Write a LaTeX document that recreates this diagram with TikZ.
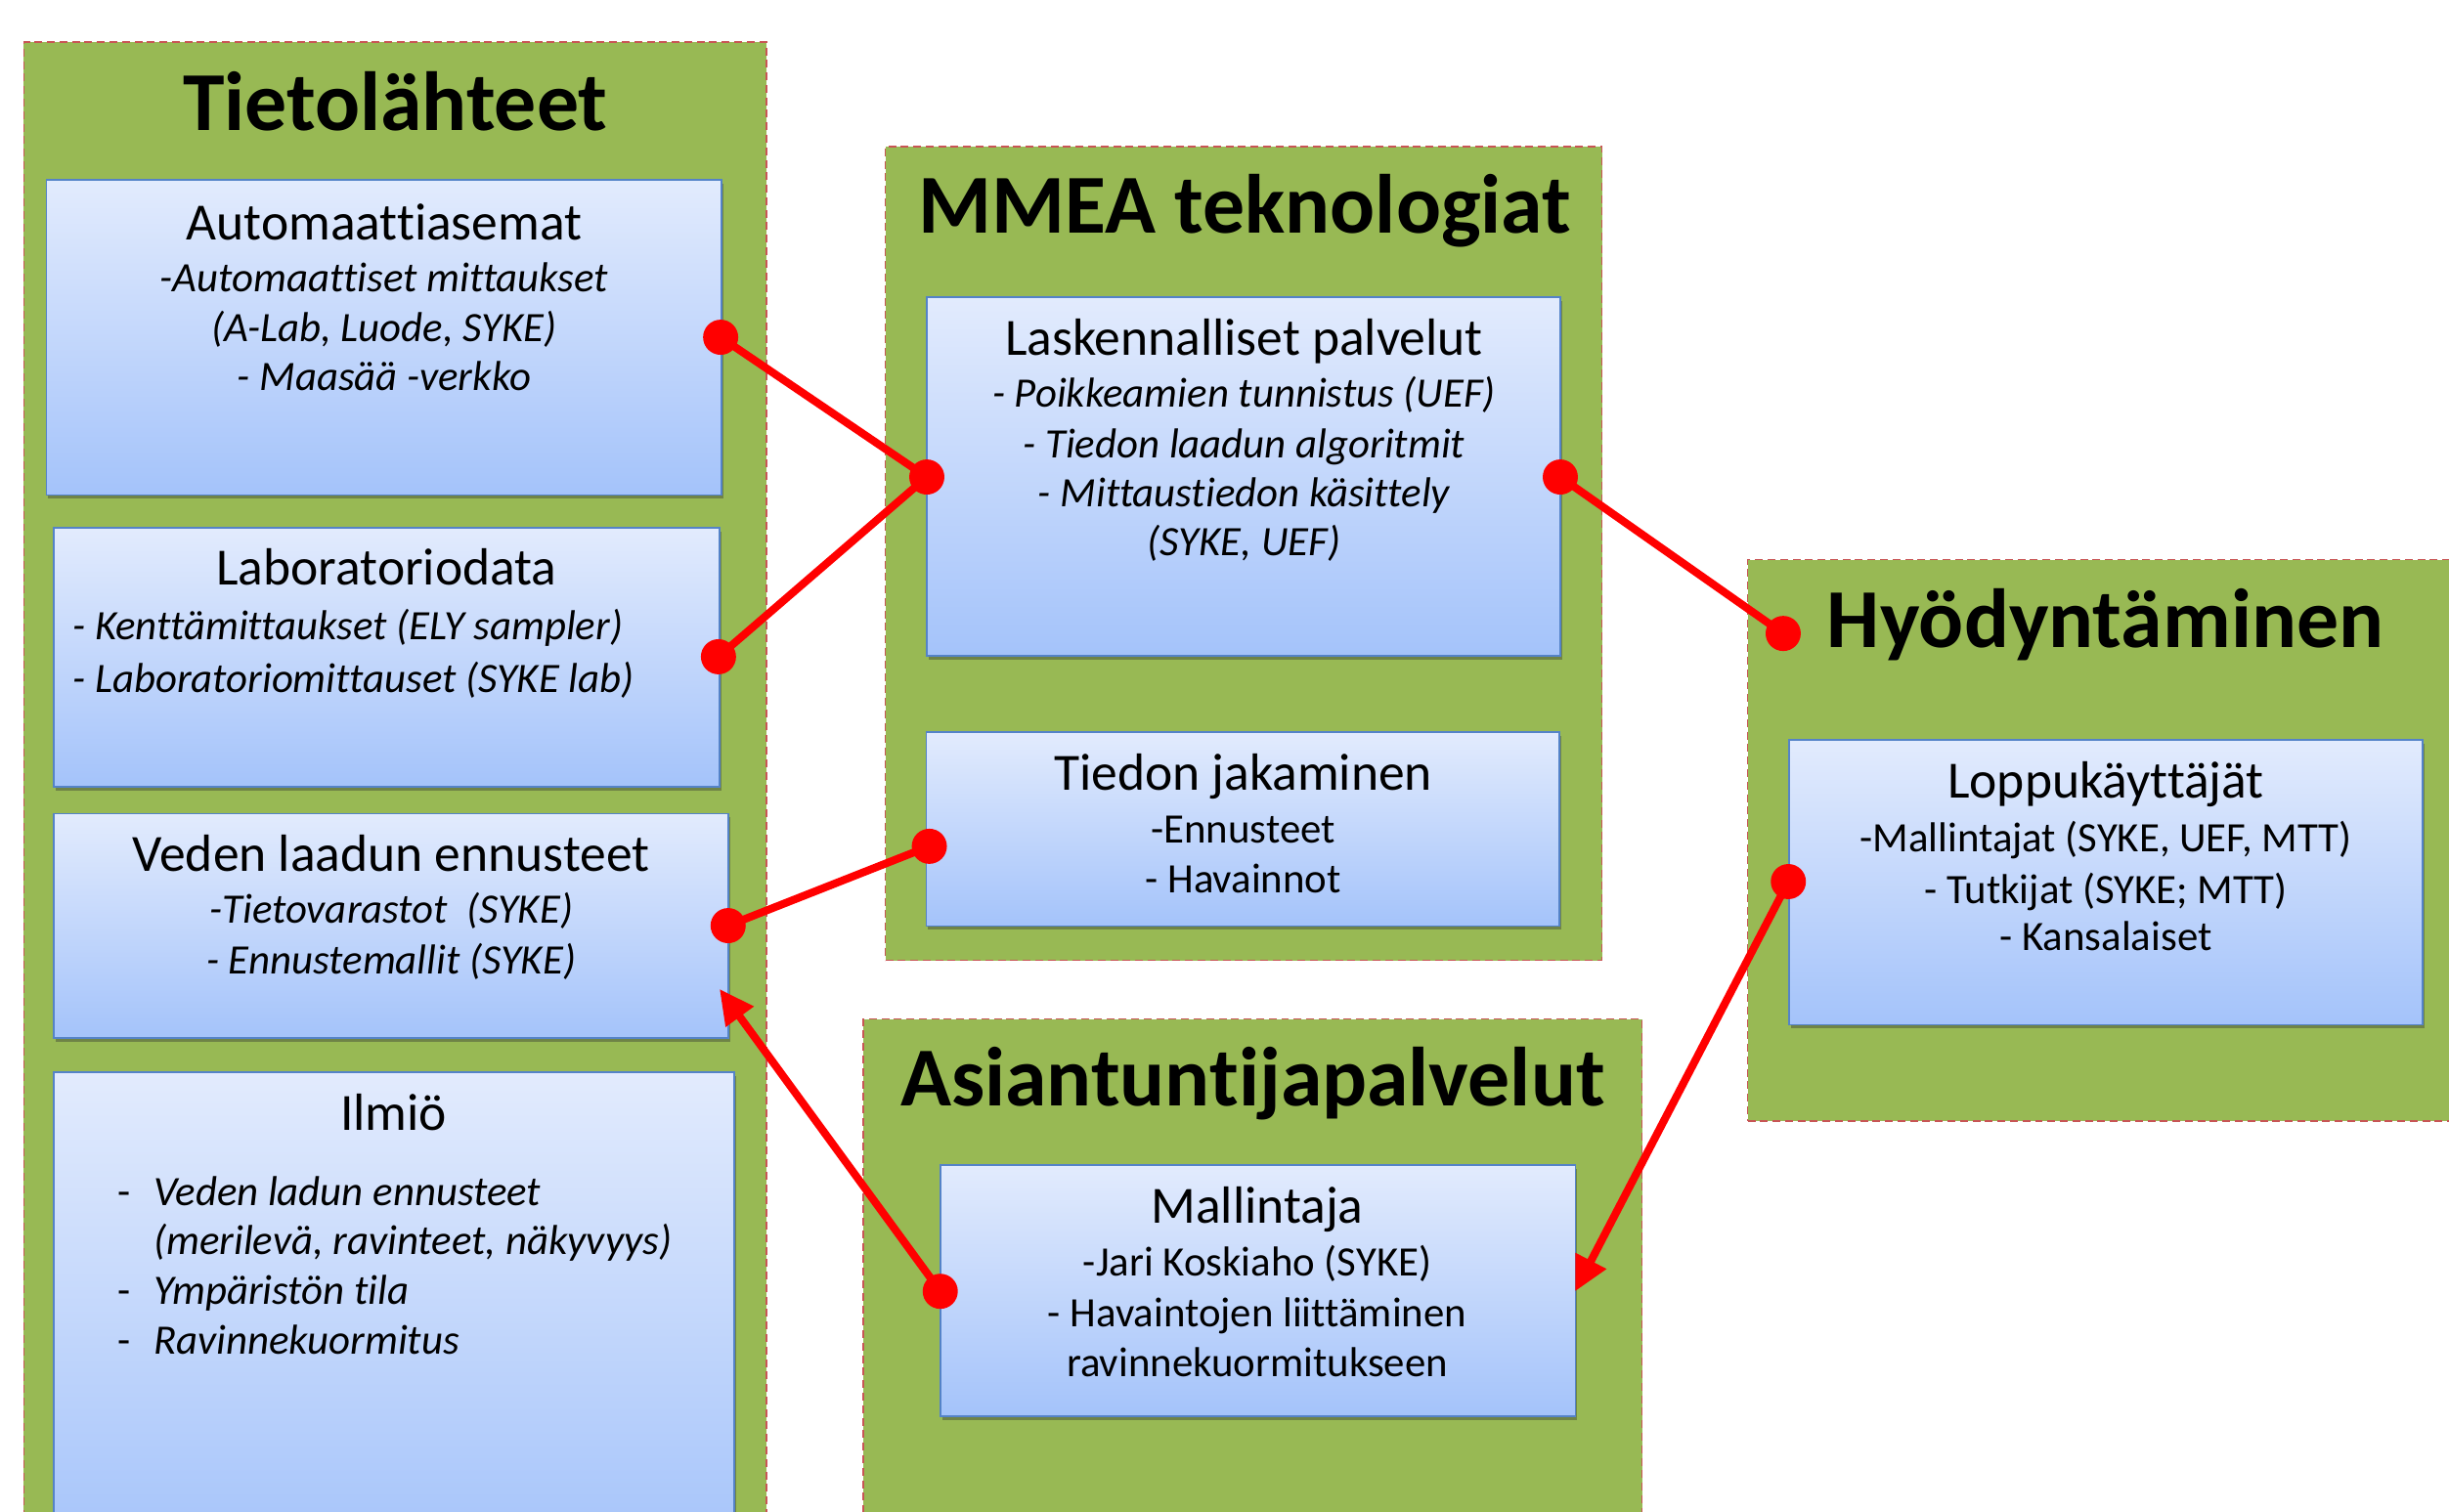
\documentclass[tikz,border=0pt]{standalone}
\usepackage{fontspec}
\setmainfont{Carlito}[Ligatures={NoCommon}]
\usetikzlibrary{shadows,arrows.meta}
\definecolor{grn}{RGB}{152,185,84}
\definecolor{dashc}{RGB}{200,85,85}
\definecolor{btop}{RGB}{226,235,253}
\definecolor{bbot}{RGB}{164,195,250}
\definecolor{bbrd}{RGB}{84,131,200}
\definecolor{rd}{RGB}{255,0,0}
\tikzset{
  container/.style={draw=dashc, dash pattern=on 5pt off 3pt, line width=0.9pt, fill=grn, inner sep=0pt, outer sep=0pt},
  bluebox/.style={draw=bbrd, line width=1pt, top color=btop, bottom color=bbot, inner sep=0pt, outer sep=0pt,
     drop shadow={shadow xshift=1.2pt, shadow yshift=-2.5pt, opacity=0.4, fill=black!80}},
  ctitle/.style={anchor=base, font=\fontsize{53.7}{60}\selectfont\bfseries, inner sep=0pt},
  btitle/.style={anchor=base, font=\fontsize{33.5}{38}\selectfont, inner sep=0pt},
  isub/.style={anchor=base, font=\fontsize{26.8}{30}\selectfont\itshape, inner sep=0pt},
  rsub/.style={anchor=base, font=\fontsize{26.8}{30}\selectfont, inner sep=0pt},
  conn/.style={draw=rd, line width=5pt},
  arr/.style={draw=rd, line width=5pt, -{Triangle[length=22pt,width=21pt]}},
  reddot/.style={circle, fill=rd, inner sep=0pt, minimum size=22.5pt},
}
\begin{document}
\begin{tikzpicture}[x=1pt,y=-1pt]
\useasboundingbox (0,0) rectangle (1568,968);
\clip (0,0) rectangle (1568,968);
\fill[white] (0,0) rectangle (1568,968);
% containers
\node[container, minimum width=475.4pt, minimum height=973pt] (cT) at (253,513.5) {};
\node[container, minimum width=458.9pt, minimum height=521.1pt] (cM) at (796.25,354.45) {};
\node[container, minimum width=481.1pt, minimum height=359.6pt] (cH) at (1359.45,538.2) {};
\node[container, minimum width=498.6pt, minimum height=347.4pt] (cA) at (802,826.3) {};
\node[ctitle] (tT) at (253,83.5) {Tietolähteet};
\node[ctitle] (tM) at (797,149) {MMEA teknologiat};
\node[ctitle] (tH) at (1348,414.8) {Hyödyntäminen};
\node[ctitle] (tA) at (802,708.4) {Asiantuntijapalvelut};
% blue boxes
\node[bluebox, minimum width=432.3pt, minimum height=201.7pt] (bA) at (245.85,216.15) {};
\node[bluebox, minimum width=426.2pt, minimum height=166pt] (bB) at (247.6,421) {};
\node[bluebox, minimum width=431.8pt, minimum height=143.8pt] (bV) at (250.4,592.9) {};
\node[bluebox, minimum width=435.5pt, minimum height=313.3pt] (bI) at (252.25,843.35) {};
\node[bluebox, minimum width=405.6pt, minimum height=229.7pt] (bL) at (796.2,305.15) {};
\node[bluebox, minimum width=405.5pt, minimum height=124pt] (bJ) at (795.75,531) {};
\node[bluebox, minimum width=405.5pt, minimum height=182.3pt] (bP) at (1348.25,565.15) {};
\node[bluebox, minimum width=406.7pt, minimum height=161pt] (bM) at (805.35,826.5) {};
% texts: Automaattiasemat
\node[btitle] (a0) at (246,153.4) {Automaattiasemat};
\node[isub] (a1) at (246,186.7) {-Automaattiset mittaukset};
\node[isub] (a2) at (246,218.5) {(A-Lab, Luode, SYKE)};
\node[isub] (a3) at (246,250) {- Maasää -verkko};
% Laboratoriodata
\node[btitle] (l0) at (247.6,374.7) {Laboratoriodata};
\node[isub, anchor=base west] (l1) at (46.3,409.4) {- Kenttämittaukset (ELY sampler)};
\node[isub, anchor=base west] (l2) at (46.3,443.2) {- Laboratoriomittauset (SYKE lab)};
% Veden laadun ennusteet
\node[btitle] (v0) at (250.4,558) {Veden laadun ennusteet};
\node[isub] (v1) at (250.5,591.5) {-Tietovarastot\ \ (SYKE)};
\node[isub] (v2) at (250.5,624) {- Ennustemallit (SYKE)};
% Ilmio
\node[btitle] (i0) at (252,723.6) {Ilmiö};
\node[rsub, anchor=base west] (i1d) at (75.3,772) {-};
\node[isub, anchor=base west] (i1) at (98.3,772) {Veden ladun ennusteet};
\node[isub, anchor=base west] (i2) at (98.3,803.3) {(merilevä, ravinteet, näkyvyys)};
\node[rsub, anchor=base west] (i3d) at (75.3,835.6) {-};
\node[isub, anchor=base west] (i3) at (98.3,835.6) {Ympäristön tila};
\node[rsub, anchor=base west] (i4d) at (75.3,867) {-};
\node[isub, anchor=base west] (i4) at (98.3,867) {Ravinnekuormitus};
% Laskennalliset palvelut
\node[btitle] (p0) at (796.5,227.3) {Laskennalliset palvelut};
\node[isub] (p1) at (796.5,260.4) {- Poikkeamien tunnistus (UEF)};
\node[isub] (p2) at (796.5,293) {- Tiedon laadun algoritmit};
\node[isub] (p3) at (796.5,324.6) {- Mittaustiedon käsittely};
\node[isub] (p4) at (796.5,356) {(SYKE, UEF)};
% Tiedon jakaminen
\node[btitle] (j0) at (796,506) {Tiedon jakaminen};
\node[rsub] (j1) at (796,540) {-Ennusteet};
\node[rsub] (j2) at (796,572) {- Havainnot};
% Loppukayttajat
\node[btitle] (k0) at (1348.3,510.8) {Loppukäyttäjät};
\node[rsub] (k1) at (1348.3,545.2) {-Mallintajat (SYKE, UEF, MTT)};
\node[rsub] (k2) at (1348.3,578.4) {- Tutkijat (SYKE; MTT)};
\node[rsub] (k3) at (1348.3,608.8) {- Kansalaiset};
% Mallintaja
\node[btitle] (m0) at (805,783.5) {Mallintaja};
\node[rsub] (m1) at (805,817) {-Jari Koskiaho (SYKE)};
\node[rsub] (m2) at (805,850) {- Havaintojen liittäminen};
\node[rsub] (m3) at (805,881.5) {ravinnekuormitukseen};
% dots
\node[reddot] (dA) at (461.4,216) {};
\node[reddot] (dB) at (460,420.6) {};
\node[reddot] (dL1) at (593.4,305.5) {};
\node[reddot] (dL2) at (999,305.5) {};
\node[reddot] (dH) at (1141.7,405.7) {};
\node[reddot] (dJ) at (595,542) {};
\node[reddot] (dV) at (466.2,592.8) {};
\node[reddot] (dM) at (602,827) {};
\node[reddot] (dP) at (1145,564.6) {};
\coordinate (tipV) at (460.7,633.4);
\coordinate (tipM) at (1008.5,827);
% connectors
\draw[conn] (dA.center) -- (dL1.center);
\draw[conn] (dB.center) -- (dL1.center);
\draw[conn] (dL2.center) -- (dH.center);
\draw[conn] (dJ.center) -- (dV.center);
\draw[arr] (dM.center) -- (tipV);
\draw[arr] (dP.center) -- (tipM);
\end{tikzpicture}
\end{document}
